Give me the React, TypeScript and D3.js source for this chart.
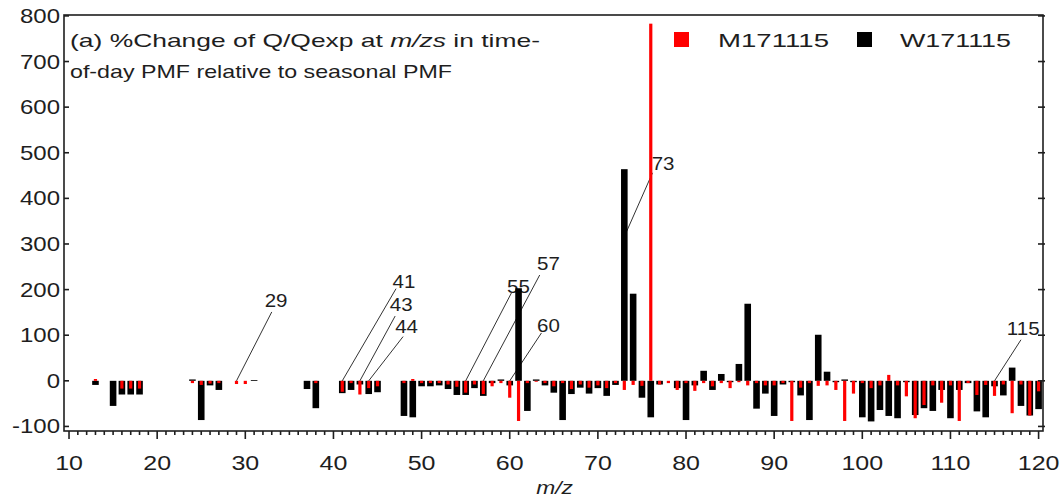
import React, { useEffect, useRef } from "react";
import * as d3 from "d3";

// m/z channels and % change of Q/Qexp for the two time-of-day runs
const mzList = [
  13, 15, 16, 17, 18, 24, 25, 26, 27, 29, 30, 31, 37, 38, 41, 42, 43, 44, 45,
  48, 49, 50, 51, 52, 53, 54, 55, 56, 57, 58, 59, 60, 61, 62, 63, 64, 65, 66, 67, 68, 69,
  70, 71, 72, 73, 74, 75, 76, 77, 78, 79, 80, 81, 82, 83, 84, 85, 86, 87, 88, 89,
  90, 91, 92, 93, 94, 95, 96, 97, 98, 99, 100, 101, 102, 103, 104, 105, 106, 107, 108, 109,
  110, 111, 112, 113, 114, 115, 116, 117, 118, 119, 120,
];
const wValues = [
  -9, -55, -30, -30, -30, 3, -86, -10, -20, null, null, 1.5, -18, -60, -27, -20, -8, -29, -25,
  -77, -80, -12, -12, -10, -18, -31, -31, -16, -33, -5, 3, -10, 203, -66, 3, -10, -26, -86, -29, -15, -28,
  -16, -33, -9, 464, 191, -37, -80, -8, null, -16, -86, -10, 22, -20, 15, -3, 37, 169, -61, -28,
  -77, -8, -3, -32, -86, 101, 20, -3, 3, -3, -80, -89, -64, -77, -82, -3, -75, -60, -66, -20,
  -82, -20, -5, -67, -80, -12, -32, 29, -55, -76, -62,
];
const mValues = [
  4, null, -17, -17, -17, -5, -9, -6, -5, -7, -7, null, null, -5, -24, -5, -30, -16, -12,
  -5, 4, -5, -5, -5, -8, -13, -26, -8, -29, -12, -5, -37, -88, -5, -2, -5, -12, -5, -18, -8, -15,
  -10, -16, -5, -20, -9, -11, 783, -8, -5, -20, -5, -22, -5, -12, -5, -16, -3, -10, -5, -10,
  -10, -5, -88, -15, -5, -11, -10, -20, -88, -28, -5, -16, -10, 13, -10, -34, -82, -53, -10, -48,
  -10, -88, -5, -31, -9, -33, -8, -71, -8, -76, -23,
];

const yTicks = [-100, 0, 100, 200, 300, 400, 500, 600, 700, 800];
const xTicks = [10, 20, 30, 40, 50, 60, 70, 80, 90, 100, 110, 120];

// labelled peaks: bar m/z, start value, line end (m/z, value), label position (m/z, value)
const annLabels = ["29", "41", "43", "44", "55", "57", "60", "73", "115"];
const annMz = [29, 41, 43, 44, 55, 57, 60, 73, 115];
const annStart = [0, 0, 0, 0, 0, 0, 0, 316, 0];
const annEnd = [
  [33.0, 151], [47.1, 202], [47.0, 142], [47.9, 97], [60.2, 193],
  [63.4, 232], [63.6, 105], [76.2, 456], [118.0, 90],
];
const annText = [
  [32.2, 162], [46.7, 204], [46.4, 153], [47.0, 105], [59.7, 193],
  [63.1, 243], [63.1, 107], [76.1, 462], [116.4, 101],
];

const App = () => {
  const svgRef = useRef<SVGSVGElement>(null);

  useEffect(() => {
    document.body.style.margin = "0";
    const width = 1064;
    const height = 497;
    const svg = d3.select(svgRef.current);
    svg.selectAll("*").remove();
    svg.attr("width", width).attr("height", height);

    const left = 64, right = 1043, top = 15, bottom = 431;
    const font = "'Liberation Sans', Arial, sans-serif";
    const ink = "#1e1e1e";

    const x = d3.scaleLinear().domain([9.43, 120.5]).range([left, right]);
    const y = d3.scaleLinear().domain([-110, 802]).range([bottom, top]);

    const stretched = (g, px, py, txt, anchor, size, sx) =>
      g.append("text")
        .attr("transform", `translate(${px},${py}) scale(${sx},1)`)
        .attr("text-anchor", anchor)
        .attr("font-family", font)
        .attr("font-size", size)
        .attr("fill", ink)
        .text(txt);

    svg.append("clipPath").attr("id", "plot-clip")
      .append("rect")
      .attr("x", left).attr("y", top)
      .attr("width", right - left).attr("height", bottom - top);

    // annotations (under the bars)
    const ann = svg.append("g");
    annMz.forEach((mz, i) => {
      ann.append("line")
        .attr("x1", x(mz)).attr("y1", y(annStart[i]))
        .attr("x2", x(annEnd[i][0])).attr("y2", y(annEnd[i][1]))
        .attr("stroke", "#333").attr("stroke-width", 1);
      ann.append("text")
        .attr("transform", `translate(${x(annText[i][0])},${y(annText[i][1])}) scale(1.08,1)`)
        .attr("font-family", font).attr("font-size", 19)
        .attr("fill", ink)
        .text(annLabels[i]);
    });

    const rows = mzList.map((mz, i) => ({ mz, w: wValues[i], m: mValues[i] }));
    const bars = svg.append("g").attr("clip-path", "url(#plot-clip)");

    const barRect = (v) => ({
      y: y(Math.max(v, 0)),
      h: Math.max(Math.abs(y(v) - y(0)), 0.8),
    });

    bars.selectAll("rect.w")
      .data(rows.filter((d) => d.w !== null))
      .join("rect")
      .attr("class", "w")
      .attr("x", (d) => x(d.mz) - 3.3)
      .attr("width", 6.6)
      .attr("y", (d) => barRect(d.w).y)
      .attr("height", (d) => barRect(d.w).h)
      .attr("fill", "#000");

    bars.selectAll("rect.m")
      .data(rows.filter((d) => d.m !== null))
      .join("rect")
      .attr("class", "m")
      .attr("x", (d) => x(d.mz) - 1.6)
      .attr("width", 3.2)
      .attr("y", (d) => barRect(d.m).y)
      .attr("height", (d) => barRect(d.m).h)
      .attr("fill", "#ff0000");

    // frame
    const axes = svg.append("g").attr("stroke", ink).attr("stroke-width", 1.6);
    axes.append("rect")
      .attr("x", left).attr("y", top)
      .attr("width", right - left).attr("height", bottom - top)
      .attr("fill", "none");

    yTicks.forEach((t) => {
      axes.append("line").attr("x1", left).attr("x2", left + 5).attr("y1", y(t)).attr("y2", y(t));
      axes.append("line").attr("x1", right - 5).attr("x2", right + 2).attr("y1", y(t)).attr("y2", y(t));
      stretched(svg, left - 4, y(t) + 7, String(t), "end", 20, 1.2);
    });

    d3.range(10, 121).forEach((t) => {
      const major = t % 10 === 0;
      axes.append("line")
        .attr("x1", x(t)).attr("x2", x(t))
        .attr("y1", bottom).attr("y2", bottom + (major ? 8 : 4));
    });
    xTicks.forEach((t) => {
      stretched(svg, x(t), 470, String(t), "middle", 20, 1.25);
    });

    svg.append("text")
      .attr("transform", `translate(${(left + right) / 2 + 1},494) scale(1.2,1)`)
      .attr("text-anchor", "middle")
      .attr("font-family", font).attr("font-size", 19)
      .attr("font-style", "italic").attr("fill", ink)
      .text("m/z");

    // title
    const t1 = svg.append("text")
      .attr("x", 70).attr("y", 47)
      .attr("font-family", font).attr("font-size", 19).attr("fill", ink)
      .attr("textLength", 470).attr("lengthAdjust", "spacingAndGlyphs");
    t1.append("tspan").text("(a) %Change of Q/Qexp at ");
    t1.append("tspan").attr("font-style", "italic").text("m/zs");
    t1.append("tspan").text(" in time-");
    svg.append("text")
      .attr("x", 70).attr("y", 78)
      .attr("font-family", font).attr("font-size", 19).attr("fill", ink)
      .attr("textLength", 382).attr("lengthAdjust", "spacingAndGlyphs")
      .text("of-day PMF relative to seasonal PMF");

    // legend
    const legend = [
      { name: "M171115", color: "#ff0000", sx: 674, tx: 718 },
      { name: "W171115", color: "#000", sx: 857, tx: 900 },
    ];
    legend.forEach((d) => {
      svg.append("rect")
        .attr("x", d.sx).attr("y", 32).attr("width", 15).attr("height", 15)
        .attr("fill", d.color);
      svg.append("text")
        .attr("x", d.tx).attr("y", 47)
        .attr("font-family", font).attr("font-size", 19).attr("fill", ink)
        .attr("textLength", 111).attr("lengthAdjust", "spacingAndGlyphs")
        .text(d.name);
    });
  }, []);

  return <svg ref={svgRef}></svg>;
};

export default App;
